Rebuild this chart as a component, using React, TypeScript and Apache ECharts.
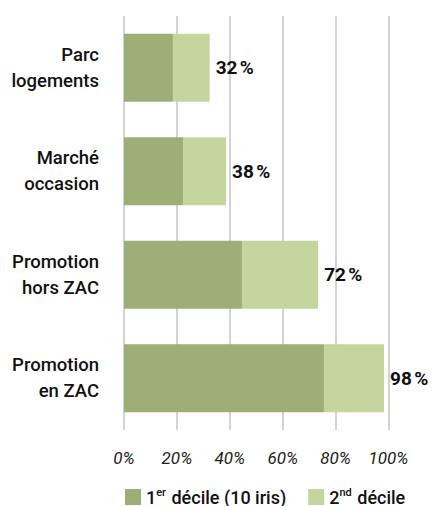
import React, { useEffect, useRef } from "react";
import * as echarts from "echarts";

const categories = ["Parc\nlogements", "Marché\noccasion", "Promotion\nhors ZAC", "Promotion\nen ZAC"];
const decile1 = [18.5, 22.3, 44.6, 75.6];
const decile2 = [13.9, 16.3, 28.8, 22.7];
const totals = [32, 38, 72, 98];
const xTicks = [0, 20, 40, 60, 80, 100];

const FONT = "Roboto, 'Liberation Sans', sans-serif";

export default function App() {
  const ref = useRef<HTMLDivElement>(null);
  useEffect(() => {
    if (!ref.current) return;
    const chart = echarts.init(ref.current, undefined, { renderer: "svg" });
    chart.setOption({
      animation: false,
      grid: { left: 124, right: 44.5, top: 16, bottom: 76, containLabel: false },
      xAxis: {
        type: "value",
        min: 0,
        max: 100,
        interval: 20,
        axisLine: { show: false },
        axisTick: { show: false },
        splitLine: { show: true, lineStyle: { color: "#c4c4c4", width: 1.5 } },
        axisLabel: {
          margin: 19,
          fontFamily: FONT,
          fontStyle: "italic",
          fontSize: 17,
          color: "#222",
          formatter: (v: number) => (xTicks.includes(v) ? v + "%" : ""),
        },
      },
      yAxis: {
        type: "category",
        inverse: true,
        data: categories,
        axisLine: { show: false },
        axisTick: { show: false },
        axisLabel: {
          margin: 25,
          fontFamily: FONT,
          fontWeight: 500,
          fontSize: 18.5,
          lineHeight: 26,
          color: "#111",
          align: "right",
        },
      },
      legend: {
        left: 120,
        top: 482,
        itemWidth: 16,
        itemHeight: 16,
        itemGap: 22,
        icon: "rect",
        textStyle: {
          fontFamily: FONT,
          fontSize: 18,
          color: "#111",
          rich: {
            a: { fontFamily: FONT, fontWeight: 500, fontSize: 18, lineHeight: 20, color: "#111" },
            s: { fontFamily: FONT, fontWeight: 500, fontSize: 11, lineHeight: 20, color: "#111", verticalAlign: "top", padding: [0, 1, 0, 0] },
          },
        },
        formatter: (name: string) =>
          name === "1er décile (10 iris)" ? "{a|1}{s|er}{a| décile (10 iris)}" : "{a|2}{s|nd}{a| décile}",
        data: ["1er décile (10 iris)", "2nd décile"],
      },
      series: [
        {
          name: "1er décile (10 iris)",
          type: "bar",
          stack: "total",
          barWidth: 68,
          data: decile1,
          itemStyle: { color: "#9daf77" },
        },
        {
          name: "2nd décile",
          type: "bar",
          stack: "total",
          barWidth: 68,
          data: decile2,
          itemStyle: { color: "#c4d69e" },
          label: {
            show: true,
            position: "right",
            distance: 6,
            fontFamily: FONT,
            fontWeight: "bold",
            fontSize: 19,
            color: "#111",
            formatter: (p: any) => totals[p.dataIndex] + "\u202f%",
          },
        },
      ],
    });
    return () => chart.dispose();
  }, []);
  return <div ref={ref} style={{ width: 433, height: 506, position: "absolute", left: 0, top: 0 }} />;
}
